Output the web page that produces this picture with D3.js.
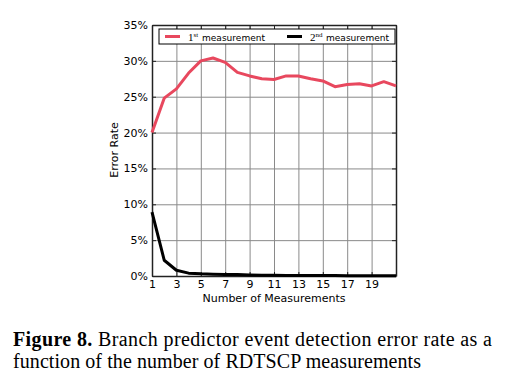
<!DOCTYPE html>
<html>
<head>
<meta charset="utf-8">
<script src="https://cdn.jsdelivr.net/npm/d3@7"></script>
<style>
  body { margin: 0; background: #fff; }
  svg { display: block; }
  .tick text { font-family: "DejaVu Sans", sans-serif; font-size: 11px; fill: #000; }
  .label { font-family: "DejaVu Sans", sans-serif; font-size: 11px; }
  .caption { font-family: "Liberation Serif", serif; font-size: 20px; }
</style>
</head>
<body>
<div id="chart"></div>
<script>
  // Data.
  var measurements = d3.range(1, 22);
  var firstSeries = [20.0, 24.8, 26.1, 28.3, 30.0, 30.4, 29.8, 28.4, 27.9, 27.5, 27.4,
                     27.9, 27.9, 27.5, 27.2, 26.4, 26.7, 26.8, 26.5, 27.1, 26.5];
  var secondSeries = [8.9, 2.2, 0.8, 0.4, 0.3, 0.25, 0.2, 0.2, 0.15, 0.12, 0.1,
                      0.08, 0.07, 0.07, 0.06, 0.06, 0.05, 0.05, 0.05, 0.05, 0.05];
  var xTicks = [1, 3, 5, 7, 9, 11, 13, 15, 17, 19];
  var xGrid = [1, 3, 5, 7, 9, 11, 13, 15, 17, 19, 21];
  var yTicks = [0, 5, 10, 15, 20, 25, 30, 35];

  var width = 509, height = 388;
  var margin = {top: 25, left: 152, right: 113, bottom: 112};
  var chartW = width - margin.left - margin.right;
  var chartH = height - margin.top - margin.bottom;

  var svg = d3.select('#chart').append('svg')
      .attr('width', width).attr('height', height);

  var inner = svg.append('g')
      .attr('transform', translation(margin.left, margin.top));

  var xScale = d3.scaleLinear().domain([1, 21]).range([0, chartW]);
  var yScale = d3.scaleLinear().domain([0, 35]).range([chartH, 0]);

  // Grid lines.
  inner.append('g')
      .call(d3.axisBottom(xScale).tickValues(xGrid).tickSize(chartH).tickFormat(''))
      .call(function(g) {
        g.select('.domain').remove();
        g.selectAll('line').attr('stroke', '#8a8a8a').attr('stroke-width', 1);
      });
  inner.append('g')
      .call(d3.axisLeft(yScale).tickValues(yTicks).tickSize(-chartW).tickFormat(''))
      .call(function(g) {
        g.select('.domain').remove();
        g.selectAll('line').attr('stroke', '#8a8a8a').attr('stroke-width', 1);
      });

  // Axes with inward ticks.
  inner.append('g')
      .attr('transform', translation(0, chartH))
      .call(d3.axisBottom(xScale).tickValues(xTicks).tickSizeInner(-4).tickSizeOuter(0).tickPadding(4))
      .call(styleAxis);
  inner.append('g')
      .call(d3.axisTop(xScale).tickValues(xGrid).tickSizeInner(-4).tickSizeOuter(0).tickFormat(''))
      .call(styleAxis);
  inner.append('g')
      .call(d3.axisLeft(yScale).tickValues(yTicks).tickSizeInner(-4).tickSizeOuter(0).tickPadding(4)
        .tickFormat(function(d) { return d + '%'; }))
      .call(styleAxis);
  inner.append('g')
      .attr('transform', translation(chartW, 0))
      .call(d3.axisRight(yScale).tickValues(yTicks).tickSizeInner(-4).tickSizeOuter(0).tickFormat(''))
      .call(styleAxis);

  // Lines.
  var line = d3.line()
      .x(function(d, i) { return xScale(measurements[i]); })
      .y(function(d) { return yScale(d); });

  inner.append('path').datum(secondSeries)
      .attr('d', line)
      .attr('fill', 'none').attr('stroke', '#000').attr('stroke-width', 3)
      .attr('stroke-linejoin', 'round');
  inner.append('path').datum(firstSeries)
      .attr('d', line)
      .attr('fill', 'none').attr('stroke', '#e8485e').attr('stroke-width', 3)
      .attr('stroke-linejoin', 'round');

  // Legend.
  var legend = inner.append('g')
      .attr('transform', translation(7, 4));
  legend.append('rect')
      .attr('width', 236).attr('height', 15)
      .attr('fill', '#fff').attr('stroke', '#000').attr('stroke-width', 1);
  var entries = [
    {num: '1', sup: 'st', color: '#e8485e', x: 6, word: 43},
    {num: '2', sup: 'nd', color: '#000', x: 128, word: 167}
  ];
  entries.forEach(function(e) {
    legend.append('line')
        .attr('x1', e.x).attr('x2', e.x + 15)
        .attr('y1', 7.5).attr('y2', 7.5)
        .attr('stroke', e.color).attr('stroke-width', 3);
    var t = legend.append('text')
        .attr('x', e.x + 23).attr('y', 11.5);
    t.append('tspan').attr('font-family', 'Liberation Serif, serif').attr('font-size', 11).text(e.num);
    t.append('tspan').attr('font-family', 'Liberation Serif, serif').attr('font-size', 7)
        .attr('dy', -4).text(e.sup);
    legend.append('text')
        .attr('x', e.word).attr('y', 11.5)
        .attr('font-family', 'DejaVu Sans, sans-serif').attr('font-size', 9.5)
        .attr('textLength', 63).attr('lengthAdjust', 'spacingAndGlyphs')
        .text('measurement');
  });

  // Axis labels.
  svg.append('text').classed('label', true)
      .attr('x', margin.left + chartW / 2).attr('y', 302)
      .attr('text-anchor', 'middle')
      .text('Number of Measurements');
  svg.append('text').classed('label', true)
      .attr('transform', translation(118, 150) + ' rotate(-90)')
      .attr('text-anchor', 'middle')
      .text('Error Rate');

  // Caption.
  var cap1 = svg.append('text').classed('caption', true).attr('x', 13).attr('y', 346)
      .attr('textLength', 479).attr('lengthAdjust', 'spacing');
  cap1.append('tspan').attr('font-weight', 'bold').text('Figure 8.');
  cap1.append('tspan').text(' Branch predictor event detection error rate as a');
  svg.append('text').classed('caption', true).attr('x', 13).attr('y', 368)
      .attr('textLength', 408).attr('lengthAdjust', 'spacing')
      .text('function of the number of RDTSCP measurements');

  function styleAxis(g) {
    g.select('.domain').attr('stroke', '#222').attr('stroke-width', 1.5);
    g.selectAll('.tick line').attr('stroke', '#222').attr('stroke-width', 1);
  }

  function translation(x, y) {
    return 'translate(' + x + ',' + y + ')';
  }
</script>
</body>
</html>
